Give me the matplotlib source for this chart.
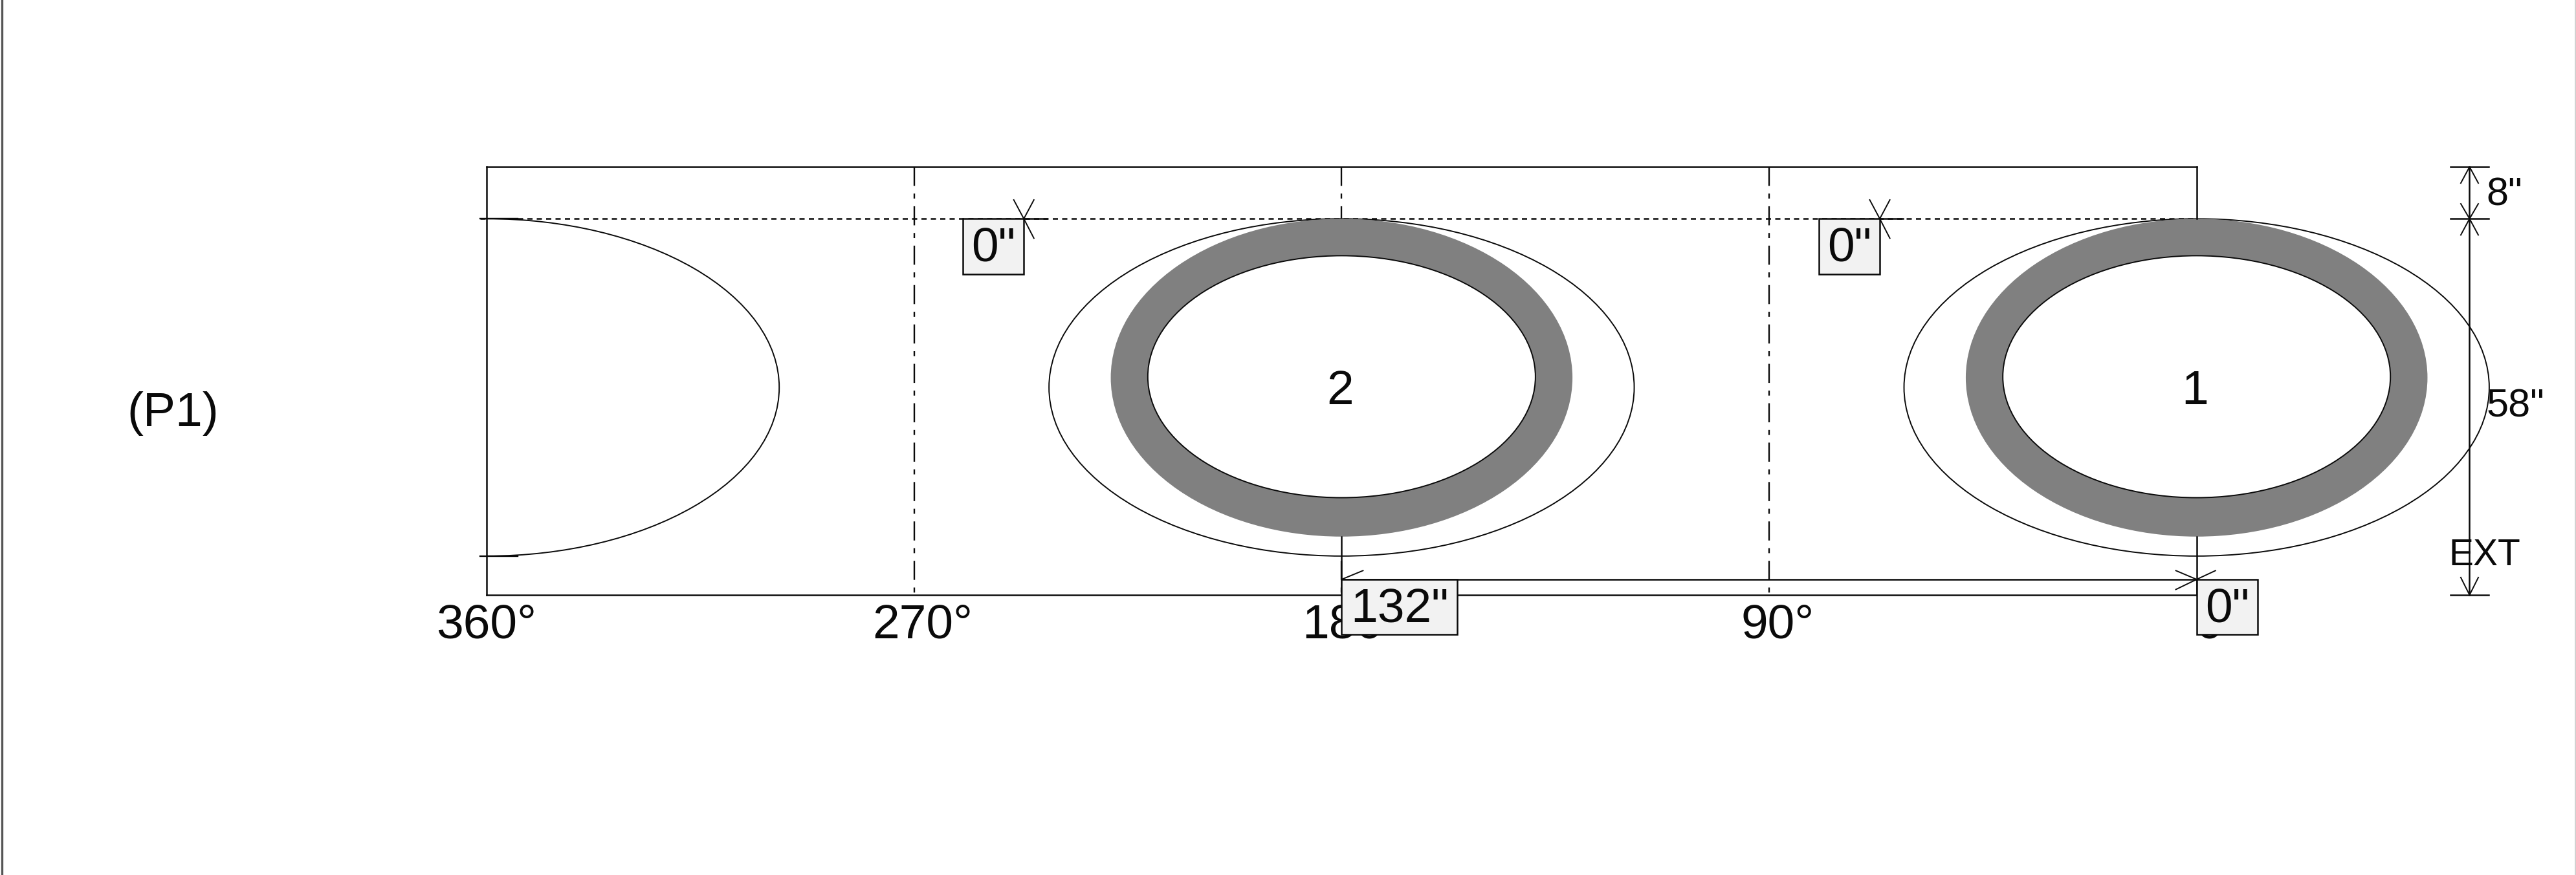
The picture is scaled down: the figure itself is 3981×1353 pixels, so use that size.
import matplotlib
matplotlib.use("Agg")
import matplotlib.pyplot as plt
from matplotlib.patches import Ellipse, Rectangle
from matplotlib.transforms import ScaledTranslation

plt.rcParams['font.family'] = ['Liberation Sans', 'DejaVu Sans']

W, H = 3981, 1353
DPI = 100

# ---- data (degrees around the circumference, inches along the axis) ----
tick_degrees = [360, 270, 180, 90, 0]
tick_labels = ['360°', '270°', '180°', '90°', '0°']
tick_shift_px = [0, 13, 16, 13, 34]
grid_degrees = [270, 180, 90]
cutout_degrees = [360, 180, 0]
cutout_names = {180: '2', 0: '1'}
ring_degrees = [180, 0]
plate_height = 66
top_offset = 8
ext_length = 58
outer_half_deg, outer_top, outer_bottom = 61.6, 8, 60
ring_half_deg, ring_top, ring_bottom = 48.6, 8, 57
hole_half_deg, hole_top, hole_bottom = 40.8, 13.7, 51
dim_boxes = [(259.7, 8, '0"'), (79.5, 8, '0"'), (180, 63.6, '132"'), (0, 63.6, '0"')]
dim_box_widths = [12.8, 12.8, 24.4, 12.9]
spacing_y = 63.6

PXX = 7.341   # px per degree
PXY = 10.03   # px per inch

fig = plt.figure(figsize=(W / DPI, H / DPI), dpi=DPI, facecolor='white')
ax = fig.add_axes([752 / W, 1 - 920 / H, (3394.7 - 752) / W, (920 - 258) / H])
ax.set_xlim(360, 0)
ax.set_ylim(plate_height, 0)
ax.set_yticks([])
ax.set_facecolor('white')

LW = 1.8
THIN = 1.4
k = '#0a0a0a'

for s in ['left', 'top', 'bottom']:
    ax.spines[s].set_linewidth(LW)
    ax.spines[s].set_color(k)
ax.spines['right'].set_visible(False)

ax.set_xticks(tick_degrees)
ax.set_xticklabels(tick_labels, fontsize=54, color=k)
ax.tick_params(axis='x', length=0, pad=9)
for lab, sh in zip(ax.get_xticklabels(), tick_shift_px):
    lab.set_transform(lab.get_transform() + ScaledTranslation(sh / DPI, 0, fig.dpi_scale_trans))


def seg(x, y, dx_px, dy_px, lw=THIN, z=6):
    """short dimension stroke from a data point, offset given in pixels"""
    ax.plot([x, x - dx_px / PXX], [y, y + dy_px / PXY], color=k, lw=lw, zorder=z,
            clip_on=False, solid_capstyle='butt')


# dash-dot reference lines
for d in grid_degrees:
    ax.plot([d, d], [0, plate_height], color=k, lw=1.7, zorder=1,
            dashes=(12.5, 5, 3.3, 5), dash_capstyle='butt')
# lines at 180 and 0 below the cut-outs
ax.plot([180, 180], [ring_bottom, plate_height], color=k, lw=LW, zorder=4)
ax.plot([0, 0], [0, top_offset], color=k, lw=LW, zorder=4, clip_on=False)
ax.plot([0, 0], [ring_bottom, plate_height], color=k, lw=LW, zorder=4, clip_on=False)

# dotted top offset line
ax.plot([360 + 10 / PXX, 0], [top_offset, top_offset], color=k, lw=LW, zorder=1.2,
        dashes=(3.2, 2.6), clip_on=False, dash_capstyle='butt')

# cut-outs
for d in cutout_degrees:
    clip = d == 360
    ax.add_patch(Ellipse((d, (outer_top + outer_bottom) / 2), 2 * outer_half_deg,
                         outer_bottom - outer_top, fc='white', ec=k, lw=THIN,
                         zorder=2, clip_on=clip))
for d in ring_degrees:
    ax.add_patch(Ellipse((d, (ring_top + ring_bottom) / 2), 2 * ring_half_deg,
                         ring_bottom - ring_top, fc='#808080', ec='none',
                         zorder=3, clip_on=False))
    ax.add_patch(Ellipse((d, (hole_top + hole_bottom) / 2), 2 * hole_half_deg,
                         hole_bottom - hole_top, fc='white', ec=k, lw=THIN,
                         zorder=3.2, clip_on=False))
for d, name in cutout_names.items():
    ax.text(d + 0.3, 34.6, name, fontsize=54, ha='center', va='center', color=k, zorder=7)

# tangents at the 360 edge
for yy in (outer_top, outer_bottom):
    ax.plot([360 + 10 / PXX, 360 - 48 / PXX], [yy, yy], color=k, lw=THIN + .3, zorder=4, clip_on=False)

# dimension boxes
for (x, y, txt), w in zip(dim_boxes, dim_box_widths):
    ax.add_patch(Rectangle((x, y), -w, 8.5, fc='#f2f2f2', ec=k, lw=LW, zorder=5, clip_on=False))
    ax.text(x - w / 2, y + 4.7, txt, fontsize=54, ha='center', va='center', color=k,
            zorder=6, clip_on=False)

# spacing dimension between the holes
ax.plot([180, 0], [spacing_y, spacing_y], color=k, lw=LW, zorder=4, clip_on=False)
seg(180, spacing_y, 34, -14)
seg(0, spacing_y, -33, -14)
seg(0, spacing_y, -33, 16)
seg(0, spacing_y, 30, -14)

# X marks at the two 0" boxes
for x in (246.9, 66.7):
    px = x
    seg(px, top_offset, -16, -30)
    seg(px, top_offset, 16, -30)
    seg(px, top_offset, 16, 31)
    ax.plot([px, px - 36 / PXX], [top_offset, top_offset], color=k, lw=LW, zorder=4)

# vertical dimension on the right
dim_x = -(3816.5 - 3394.7) / PXX
ax.plot([dim_x, dim_x], [0, plate_height], color=k, lw=LW, zorder=6, clip_on=False)
for yy in (0, top_offset, plate_height):
    ax.plot([dim_x + 29.5 / PXX, dim_x - 29.5 / PXX], [yy, yy], color=k, lw=LW, zorder=6, clip_on=False)
seg(dim_x, 0, -14, 26)
seg(dim_x, 0, 14, 26)
for sx in (-14, 14):
    seg(dim_x, top_offset, sx, -24)
    seg(dim_x, top_offset, sx, 26)
    seg(dim_x, plate_height, sx, -28)
ax.text(dim_x - 54 / PXX, top_offset / 2 + 0.4, '8"', fontsize=44, ha='center', va='center', color=k, zorder=7, clip_on=False)
ax.text(dim_x - 71 / PXX, 37.0, f'{ext_length}"', fontsize=44, ha='center', va='center', color=k, zorder=7, clip_on=False)
ax.text(dim_x - 23.5 / PXX, 59.9, 'EXT', fontsize=41, ha='center', va='center', color=k, zorder=7, clip_on=False)

fig.text(267 / W, 1 - 640 / H, '(P1)', fontsize=54, ha='center', va='center', color=k)

# window edges of the screenshot
fig.add_artist(plt.Line2D([3 / W, 3 / W], [0, 1], color='#555555', lw=2.4))
fig.add_artist(plt.Line2D([3979.5 / W, 3979.5 / W], [0, 1], color='#c8c8c8', lw=1.2))

fig.savefig('out.png', dpi=DPI, facecolor='white')
